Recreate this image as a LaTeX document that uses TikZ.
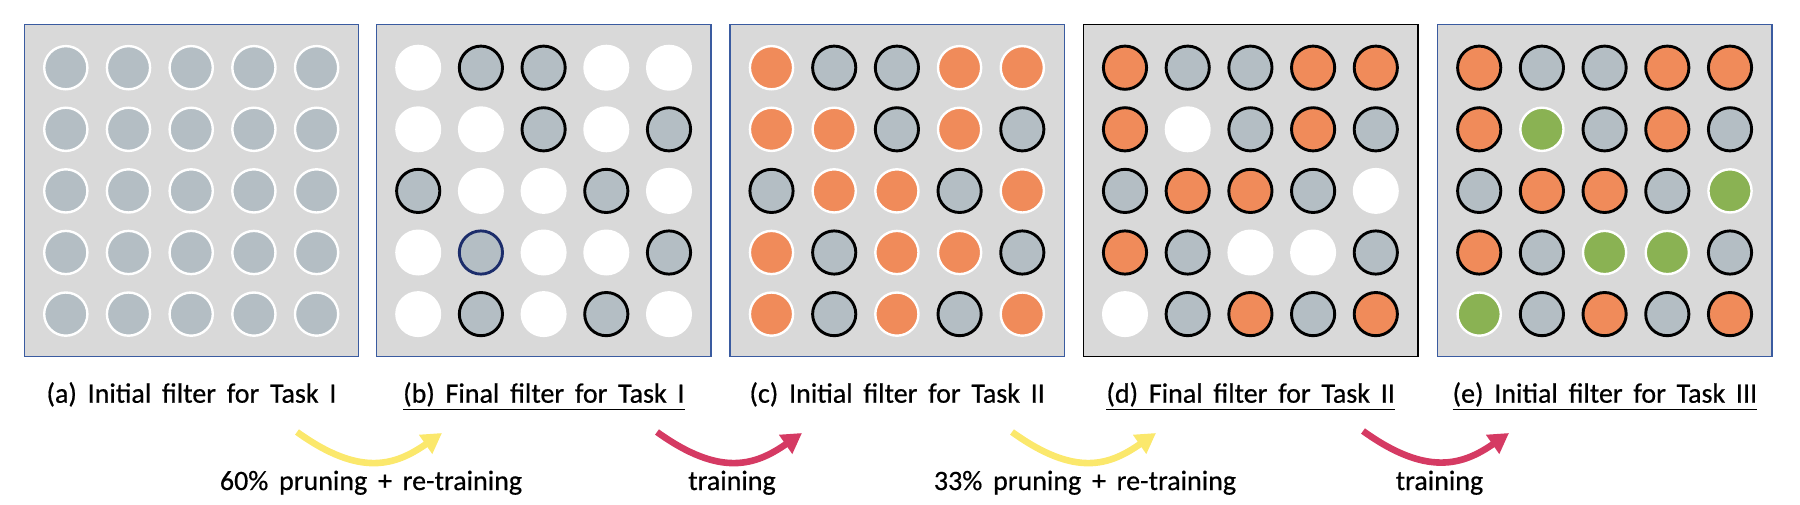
\documentclass[tikz,border=0pt]{standalone}
\usepackage{fontspec}
\setmainfont{Carlito}[WordSpace=1.7,FakeBold=0.6]
\usepackage{tikz}
\usetikzlibrary{arrows.meta}
\definecolor{fond}{HTML}{D9D9D9}
\definecolor{gris}{HTML}{B4BEC4}
\definecolor{orangec}{HTML}{F08B5A}
\definecolor{vertc}{HTML}{8AB253}
\definecolor{jaune}{HTML}{FBE86C}
\definecolor{rouge}{HTML}{D53A63}
\definecolor{bleu}{HTML}{3A5BA0}
\definecolor{marine}{HTML}{1C2D6B}

\begin{document}
\begin{tikzpicture}[x=0.5pt, y=-0.5pt]
%styles : panneaux, cercles (poids du filtre), legendes et fleches
\tikzset{panneau/.style={rectangle,fill=fond,line width=0.65pt,minimum width=167.2pt,minimum height=166.2pt,inner sep=0pt},
rond/.style={circle,inner sep=0pt,minimum size=21.6pt,line width=1.45pt},
gw/.style={rond,fill=gris,draw=white,line width=1.2pt}, %poids libre
gk/.style={rond,fill=gris,draw=black}, %poids fixe
gn/.style={rond,fill=gris,draw=marine},
ww/.style={rond,fill=white,minimum size=23pt}, %poids elague
ow/.style={rond,fill=orangec,draw=white,line width=1.2pt},
ok/.style={rond,fill=orangec,draw=black},
vw/.style={rond,fill=vertc,draw=white,line width=1.2pt},
legende/.style={font=\fontsize{14pt}{16pt}\selectfont,anchor=base,inner sep=0pt},
fleche/.style={line width=3.3pt,-{Triangle[length=10pt,width=11pt]}}}

\useasboundingbox (0,0) rectangle (1800,504);

\foreach \p/\x/\bord/\titre/\liste in {
a/24.3/bleu/{(a) Initial filter for Task I}/{gw,gw,gw,gw,gw,gw,gw,gw,gw,gw,gw,gw,gw,gw,gw,gw,gw,gw,gw,gw,gw,gw,gw,gw,gw},
b/376.7/bleu/{\underline{(b) Final filter for Task I}}/{ww,gk,gk,ww,ww,ww,ww,gk,ww,gk,gk,ww,ww,gk,ww,ww,gn,ww,ww,gk,ww,gk,ww,gk,ww},
c/730/bleu/{(c) Initial filter for Task II}/{ow,gk,gk,ow,ow,ow,ow,gk,ow,gk,gk,ow,ow,gk,ow,ow,gk,ow,ow,gk,ow,gk,ow,gk,ow},
d/1083.5/black/{\underline{(d) Final filter for Task II}}/{ok,gk,gk,ok,ok,ok,ww,gk,ok,gk,gk,ok,ok,gk,ww,ok,gk,ww,ww,gk,ww,gk,ok,gk,ok},
e/1437.7/bleu/{\underline{(e) Initial filter for Task III}}/{ok,gk,gk,ok,ok,ok,vw,gk,ok,gk,gk,ok,ok,gk,vw,ok,gk,vw,vw,gk,vw,gk,ok,gk,ok}}
{
\node[panneau,draw=\bord] (f\p) at ({\x+167.2},190.5) {};
\node[legende] (l\p) at ({\x+167.2},402.7) {\titre};
\foreach \etat [count=\k from 0] in \liste {
\pgfmathtruncatemacro{\col}{mod(\k,5)}
\pgfmathtruncatemacro{\lig}{\k/5}
\node[\etat] (\p\k) at ({\x+41.5+62.7*\col},{67.7+61.6*\lig}) {};
}
}

%fleches entre les etapes
\coordinate (j1) at (297,432);
\coordinate (j2) at (442,433);
\draw[fleche,jaune] (j1) .. controls +(64,46) and +(-46,32) .. (j2);
\node[legende] (t1) at (371,490) {60\% pruning + re-training};

\coordinate (r1) at (657,432);
\coordinate (r2) at (802,433);
\draw[fleche,rouge] (r1) .. controls +(64,46) and +(-46,32) .. (r2);
\node[legende] (t2) at (732,490) {training};

\coordinate (j3) at (1012,432);
\coordinate (j4) at (1156,433);
\draw[fleche,jaune] (j3) .. controls +(64,46) and +(-46,32) .. (j4);
\node[legende] (t3) at (1085,490) {33\% pruning + re-training};

\coordinate (r3) at (1363,431);
\coordinate (r4) at (1509,433);
\draw[fleche,rouge] (r3) .. controls +(64,46) and +(-46,32) .. (r4);
\node[legende] (t4) at (1439.5,490) {training};
\end{tikzpicture}
\end{document}
